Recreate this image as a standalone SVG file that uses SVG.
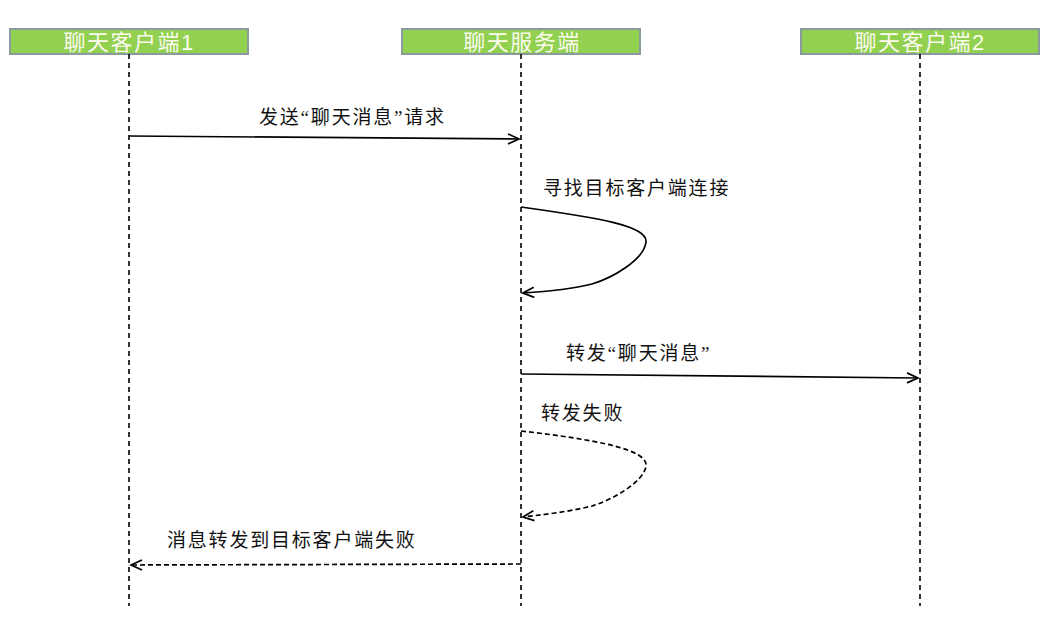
<svg xmlns="http://www.w3.org/2000/svg" width="1051" height="619" viewBox="0 0 1051 619">
<style>
.hdr{fill:#92d050;stroke:#8a9ba0;stroke-width:2}
.ht{font-family:"Liberation Sans","Noto Sans CJK SC",sans-serif;font-size:22px;letter-spacing:1.5px;fill:#fbfbef;text-anchor:middle}
.life{stroke:#000;stroke-width:1.6;stroke-dasharray:5,4;fill:none}
.msg{stroke:#000;stroke-width:1.7;fill:none}
.dash{stroke-dasharray:5,3}
.lbl{font-family:"Liberation Serif","Noto Sans CJK SC",serif;font-size:19px;letter-spacing:1.8px;fill:#111}
</style>
<defs>
<marker id="arr" markerWidth="14" markerHeight="14" refX="12" refY="6" orient="auto" markerUnits="userSpaceOnUse">
<polyline points="1,1 12,6 1,11" fill="none" stroke="#000" stroke-width="1.7"/>
</marker>
</defs>
<g id="node-client1">
<rect class="hdr" x="10" y="29" width="238" height="25"/>
<text class="ht" x="129" y="50">聊天客户端1</text>
<line class="life" x1="129" y1="54" x2="129" y2="606"/>
</g>
<g id="node-server">
<rect class="hdr" x="402" y="29" width="238" height="25"/>
<text class="ht" x="522" y="50">聊天服务端</text>
<line class="life" x1="521" y1="54" x2="521" y2="606"/>
</g>
<g id="node-client2">
<rect class="hdr" x="801" y="29" width="238" height="25"/>
<text class="ht" x="920" y="50">聊天客户端2</text>
<line class="life" x1="920" y1="54" x2="920" y2="606"/>
</g>
<g id="connectors">
<path class="msg" d="M129,136 L519,139" marker-end="url(#arr)"/>
<text class="lbl" x="259" y="124">发送“聊天消息”请求</text>
<path class="msg" d="M521,207 C600,218 648,226 646,242 C644,260 612,278 592,284 C568,290 540,292 523,293" marker-end="url(#arr)"/>
<text class="lbl" x="543" y="195">寻找目标客户端连接</text>
<path class="msg" d="M521,374 L918,378" marker-end="url(#arr)"/>
<text class="lbl" x="566" y="360">转发“聊天消息”</text>
<path class="msg dash" d="M521,431 C600,440 648,450 646,466 C644,482 612,500 592,506 C568,512 540,515 523,517" marker-end="url(#arr)"/>
<text class="lbl" x="541" y="420">转发失败</text>
<path class="msg dash" d="M521,564 L131,565" marker-end="url(#arr)"/>
<text class="lbl" x="167" y="547">消息转发到目标客户端失败</text>
</g>
</svg>
